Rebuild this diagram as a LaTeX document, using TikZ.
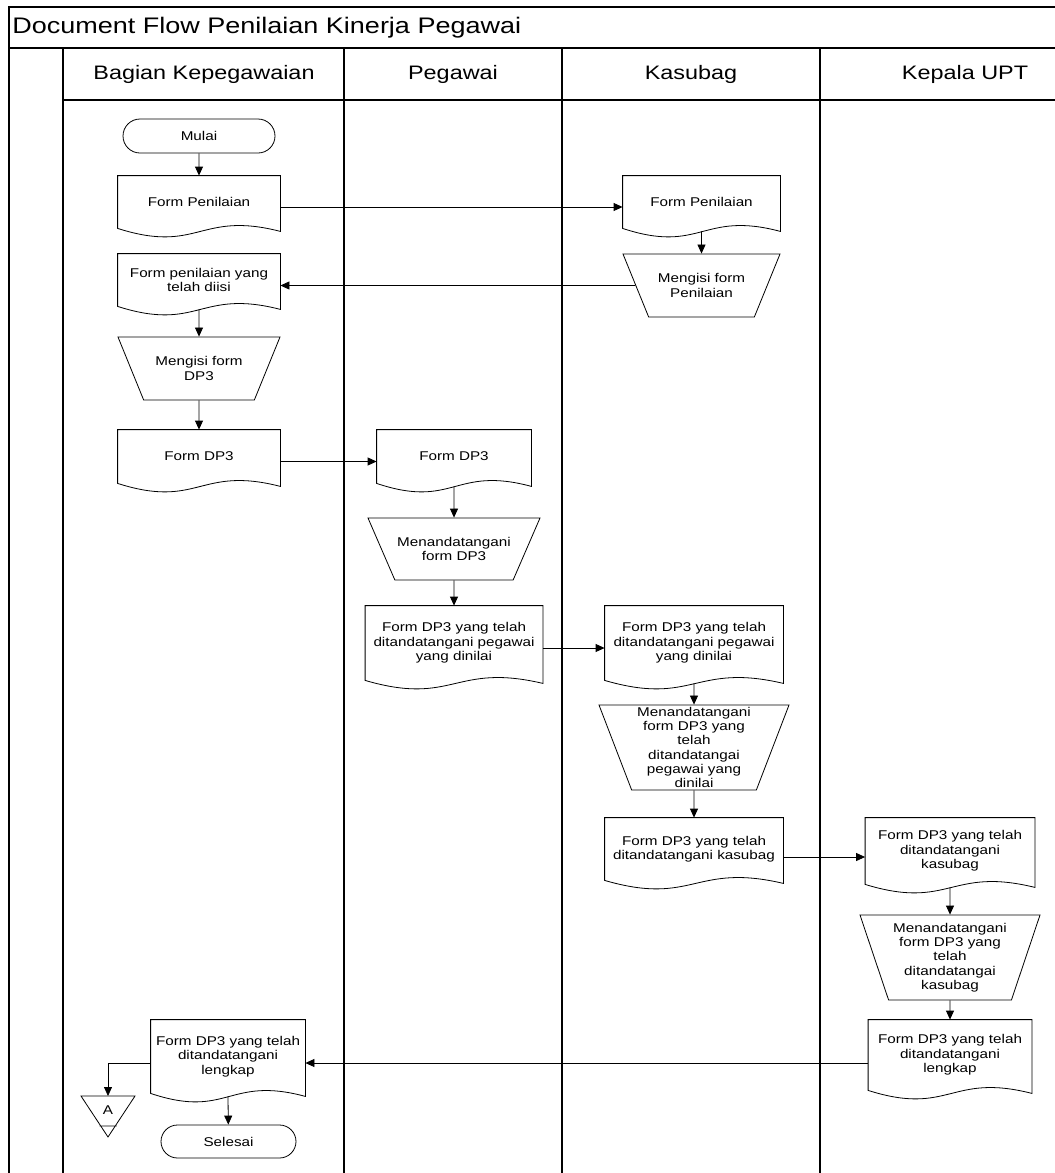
\documentclass[tikz,border=0pt]{standalone}
\usepackage{fontspec}
\setmainfont{Liberation Sans}[FakeStretch=1.2]
\usetikzlibrary{shapes.geometric,shapes.misc,arrows.meta}

\begin{document}
\begin{tikzpicture}[x=1pt,y=-1pt,line width=0.8pt,font=\fontsize{12.7}{14.3}\selectfont,
 term/.style 2 args={draw,rounded rectangle,minimum width=#1,minimum height=#2,inner sep=0pt},
 docu/.style 2 args={minimum width=#1,minimum height=#2,inner sep=0pt,align=center},
 manop/.style n args={4}{draw,trapezium,shape border rotate=180,trapezium stretches body,
   trapezium left angle=#3,trapezium right angle=#3,minimum width=#1,minimum height=#2,
   inner xsep=2pt,inner ysep=#4,align=center},
 lane/.style={font=\fontsize{19.5}{22}\selectfont},
 arr/.style={-{Triangle[length=9pt,width=8pt]}}]
\useasboundingbox (0,0) rectangle (1055,1173);
% frame and lanes
\draw[line width=1.1pt] (9,1173) -- (9,7) -- (1055,7) (9,48) -- (1055,48) (63,100) -- (1055,100);
\foreach \x in {63,344,562,820} \draw[line width=1.1pt] (\x,48) -- (\x,1173);
\node[anchor=west,font=\fontsize{22.5}{26}\selectfont,inner sep=0pt] (title) at (12,28) {Document Flow Penilaian Kinerja Pegawai};
\node[lane] (hbk) at (204,74) {Bagian Kepegawaian};
\node[lane] (hpg) at (453,74) {Pegawai};
\node[lane] (hks) at (691,74) {Kasubag};
\node[lane] (hku) at (965,74) {Kepala UPT};
% steps
\node[term={152}{34}] (mulai) at (199,136) {Mulai};
\node[docu={162}{52}] (d1) at (199,202) {Form Penilaian};
\node[docu={157}{52}] (d2) at (701.5,202) {Form Penilaian};
\node[manop={157}{63}{66}{17pt}] (t1) at (701.5,285.5) {Mengisi form\\Penilaian};
\node[docu={162}{52}] (d3) at (199,280) {Form penilaian yang\\telah diisi};
\node[manop={162}{63}{66}{17pt}] (t2) at (199,368.5) {Mengisi form\\DP3};
\node[docu={162}{53}] (d4) at (199,456.5) {Form DP3};
\node[docu={154}{53}] (d5) at (454,456.5) {Form DP3};
\node[manop={172}{62}{65}{17pt}] (t3) at (454,549) {Menandatangani\\form DP3};
\node[docu={177}{74}] (d6) at (454,643) {Form DP3 yang telah\\ditandatangani pegawai\\yang dinilai};
\node[docu={178}{74}] (d7) at (694,643) {Form DP3 yang telah\\ditandatangani pegawai\\yang dinilai};
\node[manop={190}{85}{68}{0pt}] (t4) at (694,747.5) {Menandatangani\\form DP3 yang\\telah\\ditandatangai\\pegawai yang\\dinilai};
\node[docu={178}{62}] (d8) at (694,849) {Form DP3 yang telah\\ditandatangani kasubag};
\node[docu={169}{66}] (d9) at (950,851) {Form DP3 yang telah\\ditandatangani\\kasubag};
\node[manop={180}{85}{71}{7pt}] (t5) at (950,957.5) {Menandatangani\\form DP3 yang\\telah\\ditandatangai\\kasubag};
\node[docu={163}{70}] (d10) at (950,1055) {Form DP3 yang telah\\ditandatangani\\lengkap};
\node[docu={154}{73}] (d11) at (228,1056.5) {Form DP3 yang telah\\ditandatangani\\lengkap};
\node[term={135}{33}] (selesai) at (228.5,1141.5) {Selesai};
% off-page connector
\node[inner sep=0pt] (offA) at (108,1110) {A};
\coordinate (offTop) at (108,1096);
\draw (81,1096) -- (135,1096) -- (108,1137) -- cycle (99.5,1126) -- (116.5,1126);
% document outlines
\foreach \n in {d1,d2,d3,d4,d5,d6,d7,d8,d9,d10,d11}
 \draw (\n.north west) -- (\n.north east) -- ([yshift=-3pt]\n.south east)
   .. controls ([yshift=18pt]\n.south) and ([yshift=-26pt]\n.south) .. (\n.south west) -- cycle;
% flow
\draw[arr] (mulai) -- (d1.north);
\draw[arr] ([yshift=-5pt]d1.east) -- ([yshift=-5pt]d2.west);
\draw[arr] ([yshift=-3pt]d2.south) -- (t1);
\draw[arr] (t1) -- (t1 -| d3.east);
\draw[arr] ([yshift=-3pt]d3.south) -- (t2);
\draw[arr] (t2) -- (d4.north);
\draw[arr] ([yshift=-5pt]d4.east) -- ([yshift=-5pt]d5.west);
\draw[arr] ([yshift=-3pt]d5.south) -- (t3);
\draw[arr] (t3) -- (d6.north);
\draw[arr] ([yshift=-5pt]d6.east) -- ([yshift=-5pt]d7.west);
\draw[arr] ([yshift=-3pt]d7.south) -- (t4);
\draw[arr] (t4) -- (d8.north);
\draw[arr] ([yshift=-8pt]d8.east) -- ([yshift=-6pt]d9.west);
\draw[arr] ([yshift=-3pt]d9.south) -- (t5);
\draw[arr] (t5) -- (d10.north);
\draw[arr] ([yshift=-8pt]d10.west) -- ([yshift=-6.5pt]d11.east);
\draw[arr] ([yshift=-6.5pt]d11.west) -| (offTop);
\draw[arr] ([yshift=-3pt]d11.south) -- (selesai);
\end{tikzpicture}
\end{document}
